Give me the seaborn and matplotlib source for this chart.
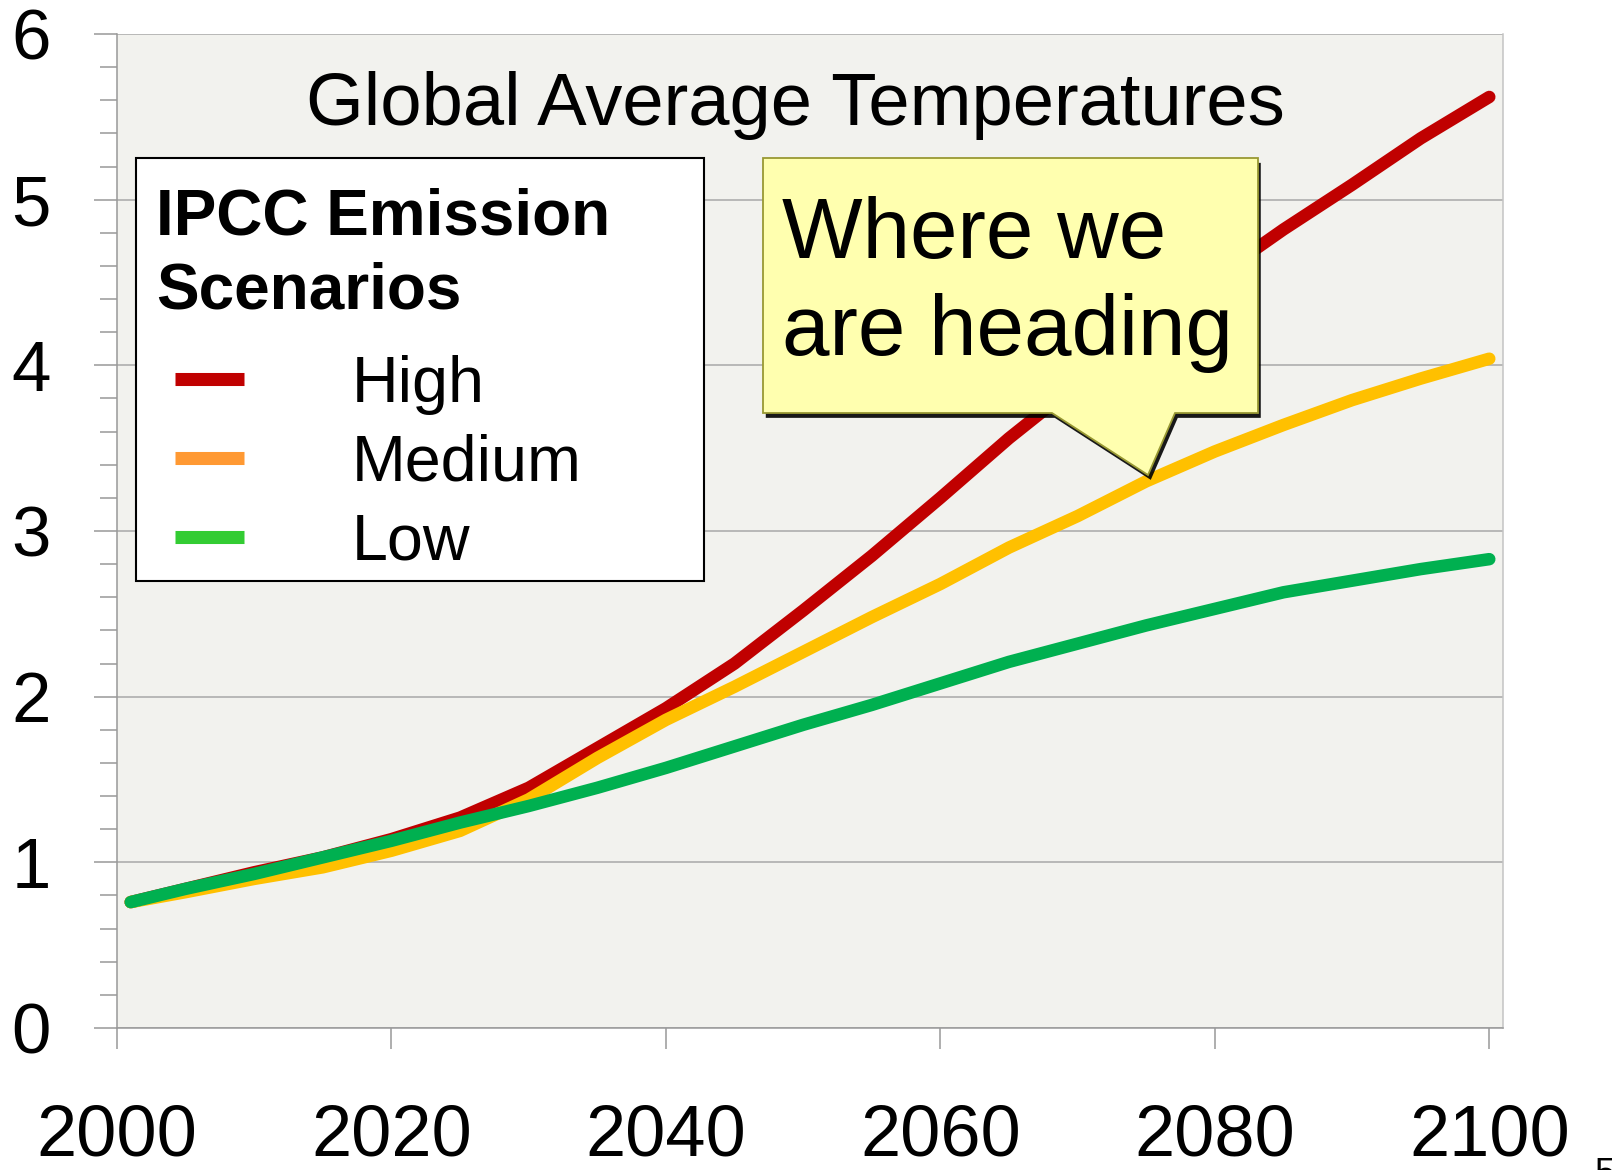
import numpy as np
import pandas as pd
import seaborn as sns
import matplotlib.pyplot as plt
import matplotlib.patheffects as pe
from matplotlib.patches import Polygon, Rectangle
from matplotlib.lines import Line2D

# values
years = [2001, 2005, 2010, 2015, 2020, 2025, 2030, 2035, 2040, 2045, 2050,
         2055, 2060, 2065, 2070, 2075, 2080, 2085, 2090, 2095, 2100]
high = [0.76, 0.84, 0.94, 1.03, 1.14, 1.27, 1.45, 1.69, 1.93, 2.20, 2.52,
        2.85, 3.20, 3.56, 3.89, 4.21, 4.53, 4.82, 5.09, 5.37, 5.62]
medium = [0.76, 0.82, 0.90, 0.97, 1.07, 1.19, 1.38, 1.63, 1.86, 2.06, 2.27,
          2.48, 2.68, 2.90, 3.09, 3.30, 3.48, 3.64, 3.79, 3.92, 4.04]
low = [0.76, 0.84, 0.93, 1.03, 1.13, 1.24, 1.34, 1.45, 1.57, 1.70, 1.83,
       1.95, 2.08, 2.21, 2.32, 2.43, 2.53, 2.63, 2.70, 2.77, 2.83]

scenarios = ['High', 'Medium', 'Low']
line_colors = ['#c00000', '#ffc000', '#00b050']
legend_colors = ['#c00000', '#ff9933', '#33cc33']
x_ticks = [2000, 2020, 2040, 2060, 2080, 2100]
y_ticks = [0, 1, 2, 3, 4, 5, 6]

W, H = 1612, 1170


def fx(px):
    return px / W


def fy(py):
    return 1 - py / H


def main():
    sns.set_theme(style='white', rc={'text.color': 'black',
                                     'xtick.labelcolor': 'black',
                                     'ytick.labelcolor': 'black'})
    plt.rcParams['font.family'] = ['Liberation Sans', 'DejaVu Sans']

    df = pd.DataFrame({
        'year': years * 3,
        'temp': high + medium + low,
        'scenario': np.repeat(scenarios, len(years)),
    })

    fig = plt.figure(figsize=(W / 100, H / 100), dpi=100)
    ax = fig.add_axes([fx(117), fy(1028), fx(1503) - fx(117), fy(34) - fy(1028)])
    ax.set_facecolor('#f2f2ee')
    ax.set_axisbelow(True)

    sns.lineplot(data=df, x='year', y='temp', hue='scenario', hue_order=scenarios,
                 palette=line_colors, lw=9, solid_capstyle='round',
                 legend=False, ax=ax)

    ax.set_xlim(2000, 2101)
    ax.set_ylim(0, 6)
    ax.set_xlabel('')
    ax.set_ylabel('')
    ax.set_xticks(x_ticks)
    ax.set_yticks(y_ticks)
    ax.set_yticks(np.arange(0, 6.01, 0.2), minor=True)

    ax.tick_params(axis='y', which='major', left=True, length=16.5, width=1.1,
                   color='#999999', pad=31, labelsize=51, labelcolor='black')
    ax.tick_params(axis='y', which='minor', left=True, length=12.2, width=1.1,
                   color='#999999')
    ax.tick_params(axis='x', which='major', bottom=True, length=15, width=1.1,
                   color='#999999', pad=39, labelsize=52, labelcolor='black')

    ax.yaxis.grid(True, color='#a8a8a8', lw=1.1)
    ax.xaxis.grid(False)
    ax.spines['top'].set_visible(False)
    for side in ['left', 'bottom']:
        ax.spines[side].set_color('#999999')
        ax.spines[side].set_linewidth(1.1)
    ax.spines['right'].set_color('#c4c4c4')
    ax.spines['right'].set_linewidth(1.1)

    # title inside plot area
    ax.text(fx(795), fy(125), 'Global Average Temperatures', transform=fig.transFigure,
            ha='center', va='baseline', fontsize=53.5, color='black', zorder=7)

    # legend box
    ax.add_patch(Rectangle((fx(136), fy(581)), fx(704) - fx(136), fy(158) - fy(581),
                           transform=fig.transFigure, facecolor='white',
                           edgecolor='black', lw=1.5, zorder=5, clip_on=False))
    ax.text(fx(156), fy(309), 'IPCC Emission\nScenarios', transform=fig.transFigure,
            ha='left', va='baseline', fontsize=46, fontweight='bold', color='black',
            linespacing=1.31, zorder=7)
    handles = [Line2D([], [], color=c, lw=9.4, solid_capstyle='butt') for c in legend_colors]
    leg = ax.legend(handles, scenarios, loc='upper left',
                    bbox_to_anchor=(fx(175), fy(355)), bbox_transform=fig.transFigure,
                    frameon=False, fontsize=46.5, handlelength=1.07, handletextpad=1.67,
                    labelspacing=0.29, borderpad=0, borderaxespad=0)
    for t in leg.get_texts():
        t.set_color('black')
    leg.set_zorder(7)

    # callout
    callout = [(763, 158), (1258, 158), (1258, 413), (1175, 413), (1148, 475),
               (1052, 413), (763, 413)]
    ax.add_patch(Polygon([(fx(x), fy(y)) for x, y in callout], closed=True,
                         transform=fig.transFigure, facecolor='#ffffaf',
                         edgecolor='#999933', lw=1.3, zorder=5, clip_on=False,
                         path_effects=[pe.SimplePatchShadow(offset=(2, -3.5),
                                                            shadow_rgbFace='black',
                                                            alpha=0.9),
                                       pe.Normal()]))
    ax.text(fx(782), fy(355), 'Where we\nare heading', transform=fig.transFigure,
            ha='left', va='baseline', fontsize=61.5, color='black',
            linespacing=1.28, zorder=7)

    # slide number
    fig.text(fx(1595), fy(1157), '5', ha='left', va='top', fontsize=26, color='black')

    fig.savefig('out.png', dpi=100)
    plt.close(fig)


if __name__ == '__main__':
    main()
